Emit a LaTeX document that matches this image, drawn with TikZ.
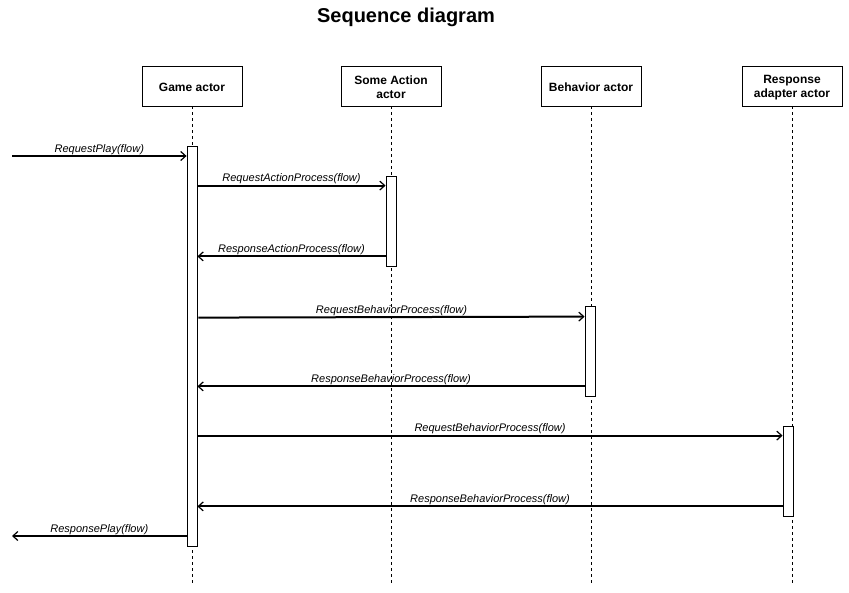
\documentclass[tikz,border=0pt]{standalone}
\usepackage{fontspec}
\setmainfont{Liberation Sans}
\usetikzlibrary{arrows.meta, positioning}

\begin{document}
\begin{tikzpicture}[x=1pt, y=-1pt, >={Straight Barb[length=5pt, width=9pt, line width=1.2pt]},
	line cap=butt, line join=miter,
	actor/.style={draw, line width=0.8pt, minimum width=100pt, minimum height=40pt, inner sep=0pt},
	actortext/.style={align=center, inner sep=0pt, yshift=-1.5pt, font=\fontsize{12}{14}\selectfont\bfseries},
	bar/.style={draw, fill=white, line width=0.8pt, minimum width=10pt, inner sep=0pt},
	life/.style={line width=0.7pt, dash pattern=on 3pt off 3pt},
	msg/.style={->, line width=2pt},
	lbl/.style={midway, above, inner sep=0.5pt, font=\fontsize{11}{13}\selectfont\itshape}]
	
	\useasboundingbox (0,0) rectangle (849,592);
	
	% ===== Title =====
	\node[font=\fontsize{20}{24}\selectfont\bfseries] (title) at (406,17) {Sequence diagram};
	
	% ===== Actors =====
	\node[actor] (game) at (192,86) {};
	\node[actor] (action) at (391,86) {};
	\node[actor] (behav) at (591,86) {};
	\node[actor] (resp) at (792,86) {};
	\node[actortext] (gametext) at (game) {Game actor};
	\node[actortext] (actiontext) at (action) {Some Action\\actor};
	\node[actortext] (behavtext) at (behav) {Behavior actor};
	\node[actortext] (resptext) at (resp) {Response\\adapter actor};
	
	% lifelines
	\foreach \a in {game, action, behav, resp}{
		\coordinate (\a end) at (\a.south |- 0,584);
		\draw[life] (\a.south) -- (\a end);
	}
	
	% ===== Activation bars =====
	\node[bar, minimum height=400pt] (gamebar) at (192,346) {};
	\node[bar, minimum height=90pt] (actionbar) at (391,221) {};
	\node[bar, minimum height=90pt] (behavbar) at (590,351) {};
	\node[bar, minimum height=90pt] (respbar) at (788,471) {};
	
	% ===== Messages =====
	\coordinate (in) at (12,156);
	\coordinate (out) at (12,536);
	\draw[msg] (in) -- (gamebar.west |- in) node[lbl] {RequestPlay(flow)};
	
	% Some Action actor
	\coordinate (rap) at ([yshift=-10pt]actionbar.north west);
	\coordinate (sap) at ([yshift=10pt]actionbar.south west);
	\draw[msg] (gamebar.east |- rap) -- (rap) node[lbl] {RequestActionProcess(flow)};
	\draw[msg] (sap) -- (gamebar.east |- sap) node[lbl] {ResponseActionProcess(flow)};
	
	% Behavior actor
	\coordinate (rbp) at ([yshift=-11pt]behavbar.north west);
	\coordinate (sbp) at ([yshift=10pt]behavbar.south west);
	\draw[msg] ([xshift=1pt,yshift=-1pt]gamebar.east |- rbp) -- (rbp) node[lbl] {RequestBehaviorProcess(flow)};
	\draw[msg] (sbp) -- (gamebar.east |- sbp) node[lbl] {ResponseBehaviorProcess(flow)};
	
	% Response adapter actor
	\coordinate (rrp) at ([yshift=-10pt]respbar.north west);
	\coordinate (srp) at ([yshift=10pt]respbar.south west);
	\draw[msg] (gamebar.east |- rrp) -- (rrp) node[lbl] {RequestBehaviorProcess(flow)};
	\draw[msg] (srp) -- (gamebar.east |- srp) node[lbl] {ResponseBehaviorProcess(flow)};
	
	\draw[msg] (gamebar.west |- out) -- (out) node[lbl] {ResponsePlay(flow)};
	
\end{tikzpicture}
\end{document}
